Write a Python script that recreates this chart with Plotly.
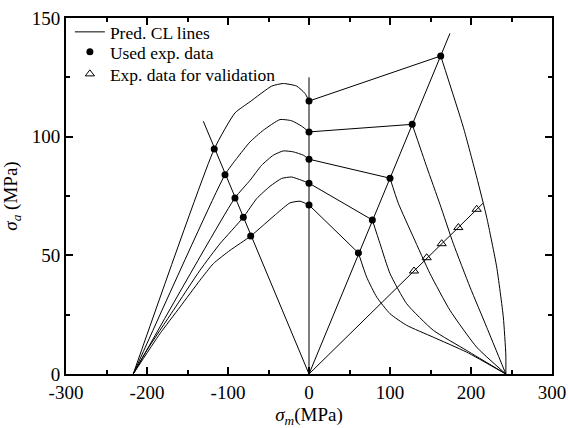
import plotly.graph_objects as go

# Constant-life (CL) diagram: amplitude stress vs. mean stress
UTS_C = -217.0   # compressive strength (MPa)
UTS_T = 243.0    # tensile strength (MPa)

# Experimental points used for the fit (three R-ratio lines)
used_left_x = [-117.0, -103.7, -91.4, -81.1, -72.0]
used_left_y = [94.8, 84.0, 74.2, 66.0, 58.1]
used_zero_x = [0, 0, 0, 0, 0]
used_zero_y = [115.0, 102.0, 90.5, 80.4, 71.2]
used_right_x = [162.6, 127.4, 100.0, 78.2, 61.0]
used_right_y = [134.0, 105.2, 82.5, 64.9, 51.0]

# Validation points
val_x = [129.6, 145.3, 163.8, 184.4, 207.0]
val_y = [43.4, 49.0, 54.9, 61.7, 69.4]

# R-ratio rays from the origin (end points)
ray_end_x = [-130.5, 0.0, 174.0, 215.0]
ray_end_y = [106.5, 125.0, 143.5, 72.0]

# Predicted CL lines, compressive side (from UTS_C up to the sigma_m = 0 point)
left_x = [
    [UTS_C, -117.0, -91.4, -72.8, -46.1, -31.7, -15.2, -4.9, 0.0],
    [UTS_C, -103.7, -89.3, -72.8, -56.4, -35.8, -21.4, -9.0, 0.0],
    [UTS_C, -91.4, -72.8, -58.4, -44.0, -31.7, -19.4, -7.0, 0.0],
    [UTS_C, -200.4, -167.5, -134.6, -109.9, -81.1, -64.6, -48.1, -33.7, -21.4, -9.0, 0.0],
    [UTS_C, -184.0, -159.3, -134.6, -118.1, -97.5, -72.0, -56.4, -39.9, -23.5, -11.1, 0.0],
]
left_y = [
    [0.0, 94.8, 110.0, 114.7, 121.3, 122.4, 121.3, 118.2, 115.0],
    [0.0, 84.0, 90.8, 97.8, 102.7, 107.2, 106.7, 104.4, 102.0],
    [0.0, 74.2, 81.6, 88.0, 92.2, 94.0, 93.6, 92.2, 90.5],
    [0.0, 9.9, 26.8, 43.7, 54.9, 66.0, 73.9, 79.1, 82.4, 83.0, 81.6, 80.4],
    [0.0, 17.0, 28.2, 39.5, 46.5, 52.1, 58.1, 62.7, 67.6, 72.1, 72.8, 71.2],
]

# Predicted CL lines, tensile side (from the right R-line point down to UTS_T)
right_x = [
    [162.6, 190.5, 207.0, 219.4, 231.7, 239.9, 243.0, UTS_T],
    [127.4, 145.3, 161.7, 178.2, 198.8, 219.4, UTS_T],
    [100.0, 110.2, 128.8, 149.4, 174.1, 207.0, UTS_T],
    [78.2, 87.7, 100.0, 120.6, 153.5, 194.7, UTS_T],
    [61.0, 71.2, 83.6, 100.0, 120.6, 153.5, 194.7, UTS_T],
]
right_y = [
    [134.0, 104.0, 83.0, 66.0, 45.1, 24.0, 8.0, 0.0],
    [105.2, 87.3, 71.5, 54.9, 36.6, 19.7, 0.0],
    [82.5, 72.0, 57.7, 42.3, 26.8, 11.3, 0.0],
    [64.9, 54.9, 42.3, 29.6, 18.4, 9.9, 0.0],
    [51.0, 40.8, 32.4, 25.4, 20.5, 15.5, 9.2, 0.0],
]

x_tick_vals = [-300, -200, -100, 0, 100, 200, 300]
x_tick_text = ["-300", "-200", "-100", "0", "100", "200", "300"]
y_tick_vals = [0, 50, 100, 150]
y_tick_text = ["0", "50", "100", "150"]

FONT = "Liberation Serif, Times New Roman, serif"
LINE = dict(color="black", width=1)
SPLINE = dict(color="black", width=1, shape="spline", smoothing=0.5)

fig = go.Figure()

# CL lines
for i in range(5):
    fig.add_trace(go.Scatter(
        x=left_x[i], y=left_y[i], mode="lines", line=SPLINE,
        name="Pred. CL lines", legend="legend", legendgroup="cl",
        showlegend=(i == 0), hoverinfo="skip"))
    fig.add_trace(go.Scatter(
        x=[used_zero_x[i], used_right_x[i]], y=[used_zero_y[i], used_right_y[i]],
        mode="lines", line=LINE, legendgroup="cl", showlegend=False, hoverinfo="skip"))
    fig.add_trace(go.Scatter(
        x=right_x[i], y=right_y[i], mode="lines", line=SPLINE,
        legendgroup="cl", showlegend=False, hoverinfo="skip"))

# R-ratio rays
for ex, ey in zip(ray_end_x, ray_end_y):
    fig.add_trace(go.Scatter(x=[0, ex], y=[0, ey], mode="lines", line=LINE,
                             showlegend=False, hoverinfo="skip"))

# Experimental data
fig.add_trace(go.Scatter(
    x=used_left_x + used_zero_x + used_right_x,
    y=used_left_y + used_zero_y + used_right_y,
    mode="markers", name="Used exp. data", legend="legend2",
    marker=dict(symbol="circle", size=7, color="black")))
fig.add_trace(go.Scatter(
    x=val_x, y=val_y, mode="markers", name="Exp. data for validation", legend="legend3",
    marker=dict(symbol="triangle-up-open", size=8, color="black", line=dict(width=1))))

axis_common = dict(
    showline=True, linewidth=2, linecolor="black", mirror="ticks",
    ticks="inside", ticklen=7, tickwidth=1.5, tickcolor="black",
    showgrid=False, zeroline=False,
    tickfont=dict(family=FONT, size=19, color="black"),
)


def legend_box(y):
    return dict(x=0.008, y=y, xanchor="left", yanchor="middle",
                bgcolor="rgba(0,0,0,0)", borderwidth=0,
                font=dict(family=FONT, size=17.5, color="black"))


fig.update_layout(
    width=568, height=428,
    margin=dict(l=66, r=16, t=18, b=54, autoexpand=False),
    paper_bgcolor="white", plot_bgcolor="white",
    font=dict(family=FONT, color="black"),
    xaxis=dict(axis_common, range=[-300, 300], tickmode="array", automargin=True,
               tickvals=x_tick_vals, ticktext=x_tick_text,
               minor=dict(ticks="inside", ticklen=4, dtick=50, tickwidth=1.5, tickcolor="black"),
               title=dict(text="<i>σ</i><sub><i>m</i></sub>(MPa)",
                          font=dict(family=FONT, size=19), standoff=9)),
    yaxis=dict(axis_common, range=[0, 150], tickmode="array", automargin=False,
               tickvals=y_tick_vals, ticktext=y_tick_text,
               minor=dict(ticks="inside", ticklen=4, dtick=25, tickwidth=1.5, tickcolor="black"),
               title=dict(text="<i>σ</i><sub><i>a</i></sub> (MPa)",
                          font=dict(family=FONT, size=19))),
    legend=legend_box(0.9607),
    legend2=legend_box(0.9045),
    legend3=legend_box(0.8427),
    showlegend=True,
)

fig.write_html("out.html")
